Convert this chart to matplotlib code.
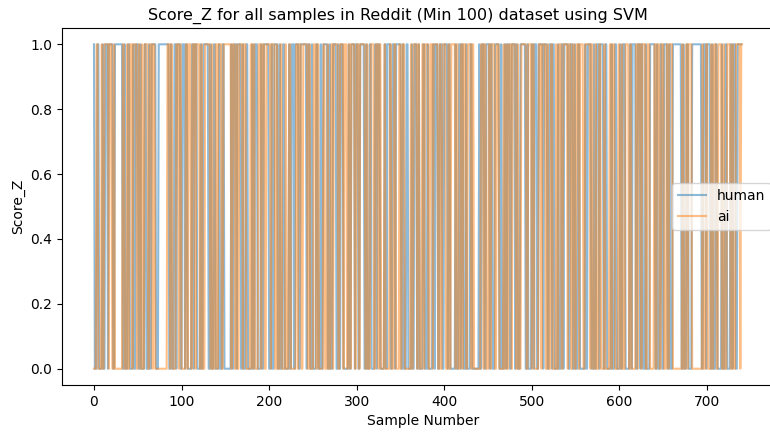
import numpy as np
import matplotlib
matplotlib.use("Agg")
import matplotlib.pyplot as plt

# --------- data: run lengths of alternating 0/1 scores -----------
# human series starts at 1, ai series starts at 0
human_start = 1
human_runs = [
    1, 3, 2, 4, 1, 2, 3, 1, 5, 2,
    9, 2, 1, 3, 2, 4, 1, 2, 3, 2,
    1, 4, 2, 3, 1, 2, 5, 3, 12, 2,
    1, 3, 2, 1, 4, 2, 3, 1, 2, 5,
    2, 1, 3, 4, 1, 2, 6, 2, 1, 3,
    2, 4, 1, 3, 2, 8, 1, 2, 3, 1,
    4, 2, 1, 3, 2, 5, 1, 2, 3, 4,
    1, 2, 6, 3, 1, 2, 4, 2, 1, 3,
    2, 5, 1, 2, 3, 1, 4, 2, 7, 1,
    3, 2, 1, 4, 2, 3, 1, 2, 5, 2,
    1, 3, 4, 2, 1, 2, 3, 6, 1, 2,
    4, 1, 3, 2, 5, 2, 1, 3, 2, 4,
    2, 1, 3, 5, 2, 1, 4, 2, 3, 1,
    6, 2, 1, 3, 2, 4, 1, 2, 3, 2,
    1, 4, 2, 3, 1, 5, 2, 1, 3, 2,
    3, 2, 4, 1, 2, 6, 1, 3, 2, 1,
    2, 3, 1, 4, 2, 8, 1, 2, 3, 2,
    4, 1, 2, 3, 5, 2, 1, 3, 2, 1,
    3, 2, 4, 1, 2, 3, 6, 2, 1, 4,
    2, 1, 3, 2, 5, 1, 4, 2, 3, 1,
    2, 4, 1, 3, 2, 1, 5, 2, 3, 2,
    1, 3, 2, 6, 1, 2, 4, 3, 1, 2,
    3, 1, 4, 2, 2, 5, 1, 3, 2, 4,
    1, 2, 3, 5, 2, 1, 4, 2, 3, 1,
    2, 3, 1, 4, 6, 2, 1, 3, 2, 2,
    4, 2, 1, 3, 10, 2, 1, 3, 2, 4,
    11, 2, 3, 1, 4, 2, 1, 3, 2, 5,
    1, 3, 2, 4, 2, 1, 3, 2, 5,
]

ai_start = 0
ai_runs = [
    3, 2, 4, 1, 2, 5, 1, 3, 2, 1,
    9, 2, 3, 1, 2, 3, 1, 4, 2, 2,
    2, 1, 2, 4, 2, 3, 1, 2, 14, 3,
    1, 2, 4, 3, 1, 2, 5, 2, 1, 3,
    2, 3, 1, 4, 2, 1, 3, 6, 2, 1,
    3, 2, 1, 4, 2, 9, 1, 3, 2, 1,
    2, 4, 1, 3, 5, 2, 1, 2, 4, 3,
    1, 3, 2, 5, 1, 4, 2, 1, 3, 2,
    4, 1, 3, 2, 6, 2, 1, 3, 2, 5,
    2, 1, 4, 3, 1, 2, 5, 2, 3, 1,
    3, 2, 1, 5, 2, 4, 1, 3, 2, 2,
    1, 4, 2, 3, 1, 6, 2, 1, 3, 4,
    2, 3, 1, 2, 4, 1, 5, 2, 3, 2,
    4, 1, 2, 3, 7, 1, 2, 4, 1, 2,
    3, 2, 1, 4, 2, 3, 1, 5, 2, 1,
    2, 4, 3, 1, 2, 5, 1, 2, 3, 2,
    1, 3, 2, 4, 1, 2, 8, 3, 1, 2,
    3, 2, 1, 4, 2, 3, 5, 1, 2, 1,
    2, 3, 1, 4, 2, 1, 3, 6, 2, 4,
    1, 2, 5, 3, 1, 4, 2, 1, 3, 2,
    4, 1, 2, 3, 2, 5, 1, 3, 2, 2,
    2, 3, 1, 4, 2, 6, 1, 2, 3, 1,
    3, 2, 4, 1, 5, 2, 1, 3, 4, 2,
    2, 1, 3, 4, 2, 1, 5, 2, 1, 3,
    1, 4, 2, 3, 5, 2, 1, 3, 2, 3,
    3, 2, 1, 4, 11, 1, 3, 2, 1, 4,
    12, 1, 3, 2, 4, 1, 2, 3, 2, 4,
    2, 1, 3, 4, 2, 1, 3, 5, 1, 2,
]

title = "Score_Z for all samples in Reddit (Min 100) dataset using SVM"


def decode(runs, start):
    vals = [(start + i) % 2 for i in range(len(runs))]
    return np.repeat(vals, runs)


human = decode(human_runs, human_start)
ai = decode(ai_runs, ai_start)

fig = plt.figure(figsize=(7.7, 4.32), dpi=100)
# the original is cropped on the right, so the axes run past the edge
ax = fig.add_axes([62 / 770, 0.109, (785 - 62) / 770, 0.826])

ax.plot(np.arange(len(human)), human, label="human", color="#1f77b4", alpha=0.5, linewidth=1.5)
ax.plot(np.arange(len(ai)), ai, label="ai", color="#ff7f0e", alpha=0.5, linewidth=1.5)

ax.set_xlim(-36.5, 789)
ax.set_title(title, fontsize=11.5, x=0.465)
ax.set_xlabel("Sample Number")
ax.set_ylabel("Score_Z")
ax.legend(loc="center right", bbox_to_anchor=(0.99, 0.5))

fig.savefig("out.png", dpi=100)
